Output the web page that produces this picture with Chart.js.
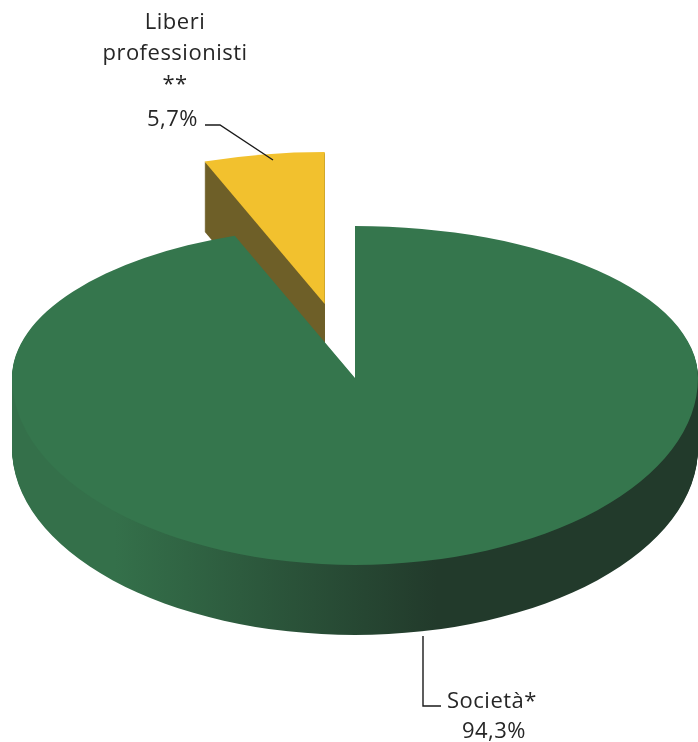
<!DOCTYPE html>
<html lang="it">
<head>
<meta charset="utf-8">
<title>Società / Liberi professionisti</title>
<script src="https://cdn.jsdelivr.net/npm/chart.js@4.4.1/dist/chart.umd.min.js"></script>
<style>
  html, body { margin: 0; padding: 0; background: #fff; }
  #wrap { position: relative; width: 698px; height: 742px; }
  .lbl { position: absolute; font-family: "Open Sans", "Noto Sans", sans-serif; font-size: 22px; letter-spacing: 0.5px; color: #262626; line-height: 31px; white-space: nowrap; }
</style>
</head>
<body>
<div id="wrap">
  <canvas id="pie3d" width="698" height="742"></canvas>
  <div class="lbl" style="left:85px; top:5px; width:180px; text-align:center;">Liberi<br>professionisti<br>**</div>
  <div class="lbl" style="left:100px; top:102px; width:98px; text-align:right;">5,7%</div>
  <div class="lbl" style="left:447px; top:684px;">Società*</div>
  <div class="lbl" style="left:444px; top:714px; width:100px; text-align:center;">94,3%</div>
</div>
<script>
// dati
const categories = ['Società*', 'Liberi professionisti **'];
const shares = [94.3, 5.7];
const topColors = ['#35764d', '#f2c12e'];
const sideColors = [['#34704a', '#223a2b'], ['#6e5f28', '#6e5f28']];
const explode = [0, 170];

// prospettiva: la metà lontana è più schiacciata di quella vicina
const tiltBack = 0.443;
const tiltFront = 0.545;
const depth = 70;

function arcPath(ctx, a) {
  const p = a.getProps(['x', 'y', 'startAngle', 'endAngle', 'outerRadius']);
  const mid = (p.startAngle + p.endAngle) / 2;
  const off = a.options.offset || 0;
  const cx = p.x + Math.cos(mid) * off;
  const cy = p.y + Math.sin(mid) * off;
  ctx.beginPath();
  ctx.moveTo(cx, cy);
  ctx.arc(cx, cy, p.outerRadius, p.startAngle, p.endAngle);
  ctx.closePath();
}

// riempie il settore in due metà (dietro / davanti) con schiacciamenti diversi
function fillTilted(chart, a, style, shift) {
  const ctx = chart.ctx;
  const dpr = chart.currentDevicePixelRatio;
  const cy = a.y;
  const halves = [[tiltBack, -2000], [tiltFront, 0]];
  halves.forEach(([k, y0]) => {
    ctx.save();
    ctx.setTransform(dpr, 0, 0, dpr * k, 0, dpr * (cy - cy * k + shift));
    ctx.beginPath();
    ctx.rect(-1000, cy + y0, 3000, 2000);
    ctx.clip();
    ctx.fillStyle = style;
    arcPath(ctx, a);
    ctx.fill();
    ctx.restore();
  });
}

const pie3d = {
  id: 'pie3d',
  beforeDatasetsDraw(chart) {
    const ctx = chart.ctx;
    const meta = chart.getDatasetMeta(0);
    const left = chart.chartArea.left;
    const right = chart.chartArea.right;
    const sides = sideColors.map(c => {
      const g = ctx.createLinearGradient(left, 0, right, 0);
      g.addColorStop(0, c[0]);
      g.addColorStop(0.15, c[0]);
      g.addColorStop(0.62, c[1]);
      g.addColorStop(1, c[1]);
      return g;
    });
    // pareti laterali: strati sovrapposti spostati verso il basso
    for (let d = depth; d > 0; d--) {
      meta.data.forEach((a, i) => fillTilted(chart, a, sides[i], d));
    }
    // facce superiori
    meta.data.forEach((a, i) => fillTilted(chart, a, topColors[i], 0));
    return false;
  },
  afterDraw(chart) {
    const ctx = chart.ctx;
    ctx.save();
    ctx.strokeStyle = '#1a1a1a';
    ctx.lineWidth = 1.4;
    // linee di richiamo delle etichette
    ctx.beginPath();
    ctx.moveTo(205, 125);
    ctx.lineTo(220, 125);
    ctx.lineTo(273, 160);
    ctx.moveTo(423, 636);
    ctx.lineTo(423, 706);
    ctx.lineTo(441, 706);
    ctx.stroke();
    ctx.restore();
  }
};

new Chart(document.getElementById('pie3d'), {
  type: 'pie',
  data: {
    labels: categories,
    datasets: [{
      data: shares,
      backgroundColor: topColors,
      borderWidth: 0,
      offset: explode,
      clip: false
    }]
  },
  options: {
    responsive: false,
    animation: false,
    radius: 343,
    layout: { padding: { left: 12, right: 0, top: 14, bottom: 0 } },
    plugins: { legend: { display: false }, tooltip: { enabled: false } }
  },
  plugins: [pie3d]
});
</script>
</body>
</html>
